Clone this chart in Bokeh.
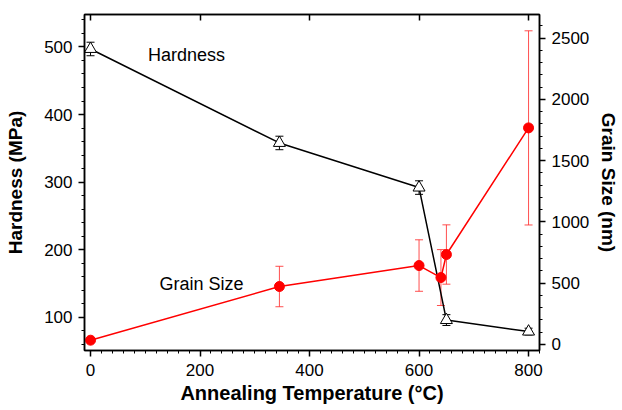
from bokeh.plotting import figure
from bokeh.models import (Range1d, LinearAxis, SingleIntervalTicker, Whisker, TeeHead,
                          ColumnDataSource, Label)
from bokeh.embed import file_html
from bokeh.resources import INLINE

# Data
temp_h = [0, 345, 600, 650, 800]
hardness = [497, 358, 292, 96, 79]
hardness_err = [10, 10, 10, 8, 5]

temp_g = [0, 345, 600, 640, 650, 800]
grain = [35, 473, 644, 546, 734, 1767]
grain_err = [0, 165, 210, 228, 242, 792]

FONT = "Liberation Sans"

p = figure(width=622, height=410, output_backend="svg", toolbar_location=None,
           x_range=Range1d(-11, 820), y_range=Range1d(51, 548),
           min_border_left=84, min_border_right=81, min_border_top=14, min_border_bottom=60)
p.extra_y_ranges = {"grain": Range1d(-49, 2692)}
p.xgrid.visible = False
p.ygrid.visible = False
p.outline_line_color = "black"
p.outline_line_width = 1.5
p.background_fill_color = "white"
p.border_fill_color = "white"

def style(ax, title=None, title_size="19px"):
    ax.axis_line_color = "black"
    ax.axis_line_width = 1.5
    ax.major_tick_line_color = "black"
    ax.major_tick_line_width = 1.5
    ax.minor_tick_line_color = "black"
    ax.minor_tick_line_width = 1
    ax.major_tick_out = 6
    ax.major_tick_in = 0
    ax.minor_tick_out = 3
    ax.minor_tick_in = 0
    ax.major_label_text_font = FONT
    ax.major_label_text_font_size = "17px"
    ax.major_label_text_color = "black"
    ax.axis_label_text_font = FONT
    ax.axis_label_text_font_size = title_size
    ax.axis_label_text_font_style = "bold"
    ax.axis_label_text_color = "black"
    if title is not None:
        ax.axis_label = title

# bottom
xa = p.xaxis[0]
xa.ticker = SingleIntervalTicker(interval=200, num_minor_ticks=10)
style(xa, "Annealing Temperature (°C)", "20px")
xa.major_label_standoff = 7
xa.axis_label_standoff = 3

# left
ya = p.yaxis[0]
ya.ticker = SingleIntervalTicker(interval=100, num_minor_ticks=5)
style(ya, "Hardness (MPa)")
ya.major_label_standoff = 6
ya.axis_label_standoff = 15

# right
ra = LinearAxis(y_range_name="grain", ticker=SingleIntervalTicker(interval=500, num_minor_ticks=5))
style(ra, "Grain Size (nm)")
ra.major_label_standoff = 6
ra.axis_label_standoff = 6
p.add_layout(ra, "right")

# top
ta = LinearAxis(ticker=SingleIntervalTicker(interval=200, num_minor_ticks=0))
style(ta)
ta.major_tick_out = 0
ta.major_tick_in = 6
ta.minor_tick_out = 0
ta.major_label_text_font_size = "0px"
ta.major_label_text_alpha = 0
p.add_layout(ta, "above")

# Hardness series
hs = ColumnDataSource(dict(x=temp_h, y=hardness,
                           lo=[v - e for v, e in zip(hardness, hardness_err)],
                           hi=[v + e for v, e in zip(hardness, hardness_err)]))
p.line("x", "y", source=hs, line_color="black", line_width=1.5)
p.add_layout(Whisker(source=hs, base="x", lower="lo", upper="hi", line_color="black",
                     line_width=1,
                     upper_head=TeeHead(size=8, line_color="black", line_width=1),
                     lower_head=TeeHead(size=8, line_color="black", line_width=1)))
p.scatter("x", "y", source=hs, marker="triangle", size=12, fill_color="white",
          line_color="black", line_width=1)

# Grain size series
gs = ColumnDataSource(dict(x=temp_g, y=grain,
                           lo=[v - e for v, e in zip(grain, grain_err)],
                           hi=[v + e for v, e in zip(grain, grain_err)]))
p.add_layout(Whisker(source=gs, base="x", lower="lo", upper="hi", y_range_name="grain",
                     line_color="#ff3030", line_width=1, line_alpha=0.85,
                     upper_head=TeeHead(size=8, line_color="#ff3030", line_width=1, line_alpha=0.85),
                     lower_head=TeeHead(size=8, line_color="#ff3030", line_width=1, line_alpha=0.85)))
p.line("x", "y", source=gs, line_color="red", line_width=1.5, y_range_name="grain")
p.scatter("x", "y", source=gs, marker="circle", size=10, fill_color="red",
          line_color="red", y_range_name="grain")

# Labels
p.add_layout(Label(x=105, y=488, text="Hardness", text_font=FONT, text_font_size="18px",
                   text_baseline="middle", text_align="left", text_color="black"))
p.add_layout(Label(x=126, y=150, text="Grain Size", text_font=FONT, text_font_size="18px",
                   text_baseline="middle", text_align="left", text_color="black"))

open("out.html", "w").write(file_html(p, INLINE))
